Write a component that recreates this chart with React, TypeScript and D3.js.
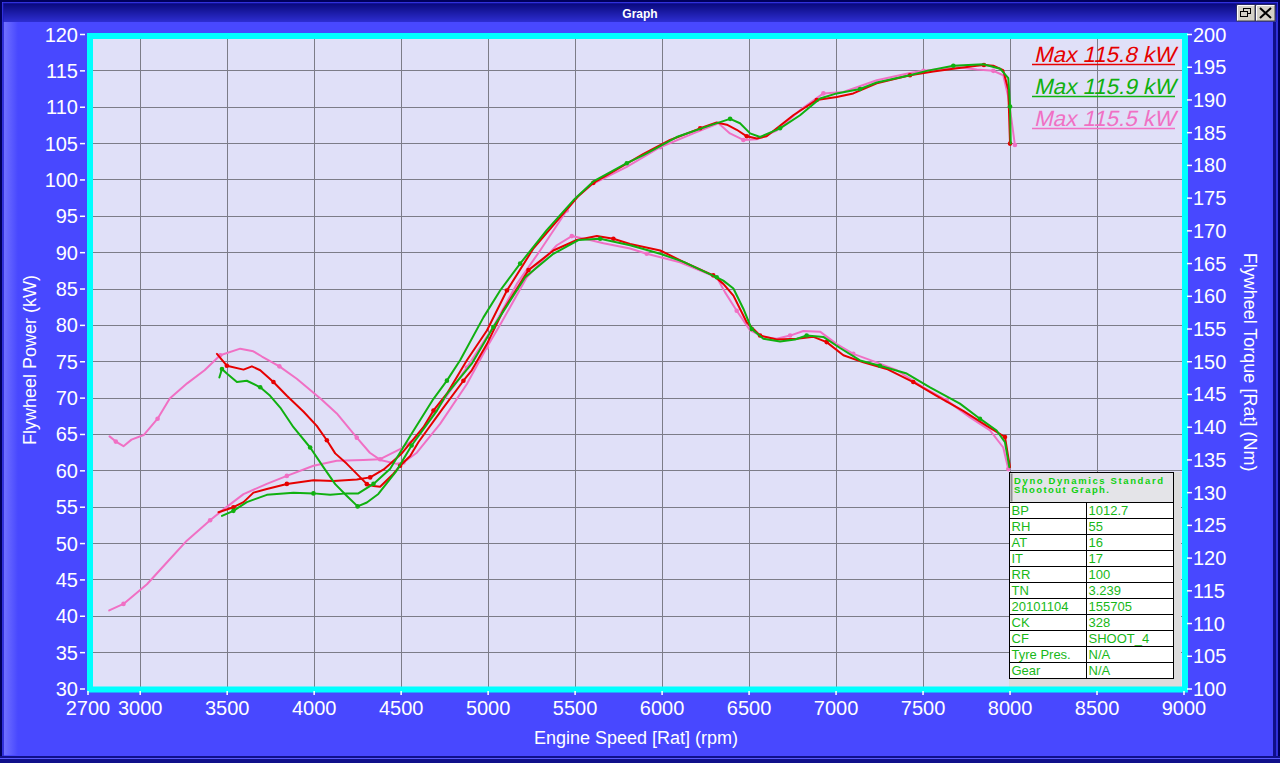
import React from 'react';
import * as d3 from 'd3';

// ─── data ───────────────────────────────────────────────────────────────────

type Pt = [number, number]; // [rpm, value]

const rpmTicks = [2700, 3000, 3500, 4000, 4500, 5000, 5500, 6000, 6500, 7000, 7500, 8000, 8500, 9000];
const powerTicks = [30, 35, 40, 45, 50, 55, 60, 65, 70, 75, 80, 85, 90, 95, 100, 105, 110, 115, 120];
const torqueTicks = [100, 105, 110, 115, 120, 125, 130, 135, 140, 145, 150, 155, 160, 165, 170, 175, 180, 185, 190, 195, 200];

const redPower: Pt[] = [
  [3450, 54.3], [3536, 55.0], [3594, 55.7], [3651, 57.0], [3728, 57.5], [3843, 58.2], [3996, 58.7],
  [4111, 58.6], [4245, 58.8], [4322, 59.1], [4400, 60.2], [4500, 62.3], [4628, 66.0], [4686, 68.3],
  [4763, 70.6], [4878, 75.2], [4993, 79.3], [5108, 84.8], [5261, 90.6], [5433, 95.4], [5520, 97.8],
  [5605, 99.6], [5701, 100.9], [5893, 103.6], [6046, 105.5], [6219, 107.1], [6314, 107.9], [6372, 107.6],
  [6429, 106.9], [6487, 106.0], [6544, 105.7], [6601, 106.0], [6754, 108.9], [6889, 111.0], [7004, 111.4],
  [7099, 111.9], [7234, 113.3], [7425, 114.4], [7559, 114.9], [7674, 115.3], [7809, 115.7], [7850, 115.8],
  [7904, 115.7], [7961, 115.1], [7990, 112.4], [8000, 105.0],
];

const redTorque: Pt[] = [
  [3441, 151.2], [3498, 149.4], [3594, 148.8], [3642, 149.3], [3690, 148.7], [3766, 146.9], [3843, 144.8],
  [3938, 142.4], [4015, 140.2], [4073, 138.0], [4121, 136.0], [4188, 134.4], [4255, 132.6], [4303, 131.3],
  [4341, 131.0], [4379, 130.9], [4456, 132.9], [4494, 134.1], [4552, 135.6], [4599, 137.7], [4743, 143.0],
  [4858, 147.1], [4906, 148.7], [4993, 152.7], [5088, 157.9], [5232, 164.0], [5375, 167.0], [5510, 168.6],
  [5625, 169.2], [5720, 168.8], [5816, 168.0], [5989, 167.0], [6120, 165.3], [6294, 163.2], [6352, 161.9],
  [6410, 160.1], [6487, 156.0], [6563, 154.0], [6659, 153.4], [6774, 153.5], [6870, 153.8], [6946, 153.0],
  [7042, 151.0], [7157, 149.9], [7291, 148.9], [7444, 146.9], [7578, 144.8], [7731, 142.5], [7866, 140.2],
  [7971, 138.5], [7990, 135.4], [8000, 133.9],
];

const greenPower: Pt[] = [
  [3470, 53.8], [3536, 54.5], [3613, 55.7], [3728, 56.7], [3881, 57.0], [3996, 56.9], [4092, 56.7],
  [4188, 56.9], [4254, 56.9], [4341, 58.2], [4437, 60.3], [4552, 64.8], [4686, 69.9], [4763, 72.4],
  [4839, 75.2], [4973, 81.1], [5069, 84.8], [5184, 88.5], [5337, 93.1], [5490, 97.2], [5605, 99.8],
  [5797, 102.3], [5893, 103.4], [6084, 105.9], [6276, 107.5], [6391, 108.4], [6448, 107.8], [6506, 106.4],
  [6563, 105.9], [6678, 107.1], [6793, 108.9], [6908, 111.2], [7004, 111.9], [7138, 112.5], [7234, 113.4],
  [7425, 114.4], [7521, 115.0], [7674, 115.7], [7847, 115.9], [7943, 115.3], [7990, 114.0], [8000, 110.1],
  [8004, 105.0],
];

const greenTorque: Pt[] = [
  [3455, 147.6], [3470, 148.9], [3498, 148.2], [3556, 146.9], [3613, 147.1], [3690, 146.1], [3747, 144.8],
  [3805, 143.0], [3881, 140.0], [3977, 136.9], [4053, 133.9], [4121, 131.3], [4188, 129.5], [4250, 127.9],
  [4303, 128.5], [4369, 129.8], [4470, 133.2], [4560, 137.2], [4705, 142.5], [4763, 145.1], [4906, 149.7],
  [5030, 155.3], [5213, 162.9], [5375, 166.5], [5519, 168.6], [5644, 168.8], [5816, 167.8], [5989, 166.5],
  [6120, 165.3], [6314, 162.9], [6352, 162.4], [6410, 161.2], [6467, 158.1], [6515, 155.0], [6582, 153.5],
  [6678, 153.1], [6764, 153.4], [6831, 154.0], [6927, 153.8], [7023, 152.1], [7138, 150.2], [7252, 149.4],
  [7406, 148.2], [7540, 146.1], [7712, 143.6], [7827, 141.3], [7923, 139.5], [7971, 137.7], [7996, 133.9],
];

const pinkPower: Pt[] = [
  [2822, 40.8], [2904, 41.7], [3039, 44.4], [3153, 47.4], [3268, 50.4], [3402, 53.2], [3479, 54.7],
  [3594, 56.8], [3728, 58.2], [3843, 59.3], [3996, 60.7], [4130, 61.4], [4283, 61.5], [4379, 61.6],
  [4494, 63.0], [4590, 64.6], [4686, 67.8], [4878, 74.2], [5030, 79.8], [5165, 85.7], [5299, 90.3],
  [5452, 95.8], [5510, 97.7], [5605, 99.5], [5797, 101.8], [5989, 104.5], [6180, 106.4], [6324, 107.8],
  [6390, 106.4], [6467, 105.5], [6544, 105.6], [6659, 106.8], [6793, 109.6], [6927, 111.9], [7042, 112.1],
  [7234, 113.7], [7425, 114.7], [7502, 115.0], [7617, 115.3], [7700, 115.5], [7809, 115.2], [7904, 115.0],
  [7961, 114.4], [7990, 111.4], [8009, 108.2], [8028, 104.8],
];

const pinkTorque: Pt[] = [
  [2824, 138.6], [2860, 137.8], [2904, 137.1], [2950, 138.1], [3020, 138.8], [3100, 141.3], [3170, 144.4],
  [3270, 146.7], [3370, 148.7], [3460, 151.0], [3575, 152.0], [3650, 151.6], [3700, 150.8], [3800, 149.3],
  [3900, 147.4], [4044, 144.2], [4130, 142.1], [4245, 138.4], [4320, 136.1], [4380, 135.0], [4475, 134.4],
  [4513, 134.6], [4590, 136.1], [4724, 140.5], [4878, 146.6], [4993, 152.2], [5079, 156.1], [5222, 162.9],
  [5395, 167.8], [5481, 169.2], [5586, 168.6], [5663, 168.1], [5816, 167.3], [5912, 166.5], [6103, 165.2],
  [6314, 162.9], [6362, 160.6], [6429, 157.8], [6506, 154.8], [6582, 153.8], [6659, 153.5], [6736, 154.0],
  [6812, 154.7], [6908, 154.6], [7004, 152.7], [7099, 151.2], [7233, 149.9], [7349, 148.7], [7502, 146.1],
  [7636, 144.1], [7770, 141.5], [7885, 139.5], [7961, 136.9], [7990, 133.6],
];

const legendLabels = ['Max 115.8 kW', 'Max 115.9 kW', 'Max 115.5 kW'];

const infoKeys = ['BP', 'RH', 'AT', 'IT', 'RR', 'TN', '20101104', 'CK', 'CF', 'Tyre Pres.', 'Gear'];
const infoValues = ['1012.7', '55', '16', '17', '100', '3.239', '155705', '328', 'SHOOT_4', 'N/A', 'N/A'];

// ─── look ───────────────────────────────────────────────────────────────────

const BG = '#4848ff';
const PLOT_BG = '#e0e0f8';
const GRID = '#7c7c88';
const CYAN = '#00ffff';
const RED = '#e60000';
const GREEN = '#10b010';
const PINK = '#f070c4';
const TXT_GREEN = '#18b818';
const FONT = "'Liberation Sans', Arial, sans-serif";
const NARROW = "'Liberation Sans Narrow', 'Liberation Sans', Arial, sans-serif";

const runs = [
  { key: 'pink', color: PINK, power: pinkPower, torque: pinkTorque },
  { key: 'red', color: RED, power: redPower, torque: redTorque },
  { key: 'green', color: GREEN, power: greenPower, torque: greenTorque },
];
const legendColors = [RED, GREEN, PINK];

export default function App() {
  const x = d3.scaleLinear().domain([2700, 9000]).range([88, 1184]);
  const yP = d3.scaleLinear().domain([30, 120]).range([689, 34.5]);
  const yT = d3.scaleLinear().domain([100, 200]).range([689, 34.5]);
  const lineP = d3.line<Pt>().x(d => x(d[0])).y(d => yP(d[1]));
  const lineT = d3.line<Pt>().x(d => x(d[0])).y(d => yT(d[1]));

  const [x0, x1] = x.range();
  const [y1, y0] = yP.range();

  // table geometry
  const tX = 1009.5, tW = 164, tY = 472.5, headH = 30, rowH = 16, colX = 1086.5;

  return (
    <div style={{ position: 'fixed', left: 0, top: 0, width: 1280, height: 763 }}>
      <svg width={1280} height={763} style={{ display: 'block' }} fontFamily={FONT}>
        <defs>
          <linearGradient id="titleGrad" x1="0" y1="0" x2="0" y2="1">
            <stop offset="0" stopColor="#08087a" />
            <stop offset="1" stopColor="#2e2ed2" />
          </linearGradient>
          <linearGradient id="leftEdge" x1="0" y1="0" x2="1" y2="0">
            <stop offset="0" stopColor="#7070ff" />
            <stop offset="1" stopColor={BG} />
          </linearGradient>
          <clipPath id="plotClip">
            <rect x={x0} y={y0} width={x1 - x0} height={y1 - y0} />
          </clipPath>
        </defs>

        {/* window chrome */}
        <rect x={0} y={0} width={1280} height={763} fill={BG} />
        <rect x={4} y={22} width={14} height={733} fill="url(#leftEdge)" />
        <rect x={3} y={3} width={1274} height={19} fill="url(#titleGrad)" />
        <rect x={1} y={1} width={1278} height={761} fill="none" stroke="#00005a" strokeWidth={2} />
        <rect x={3} y={3} width={1274} height={757} fill="none" stroke="#1a1ab8" strokeWidth={1} />
        <rect x={0} y={756} width={1280} height={7} fill="#10108a" />
        <line x1={0} x2={1280} y1={758.5} y2={758.5} stroke="#5a5aff" strokeWidth={1} />
        <rect x={1273} y={22} width={3} height={735} fill="#10108a" />
        <text x={640} y={18} textAnchor="middle" fill="#fff" fontSize={12} fontWeight="bold">Graph</text>

        {/* title bar buttons */}
        <g>
          <rect x={1237} y={5} width={18} height={16} fill="#d4d0c8" stroke="#404040" />
          <path d="M1237.5,20.5 V5.5 H1254.5" fill="none" stroke="#fff" />
          <rect x={1243.5} y={8.5} width={7} height={5} fill="none" stroke="#000" />
          <rect x={1240.5} y={11.5} width={7} height={5} fill="#d4d0c8" stroke="#000" />
          <rect x={1256} y={5} width={19} height={16} fill="#d4d0c8" stroke="#404040" />
          <path d="M1256.5,20.5 V5.5 H1274.5" fill="none" stroke="#fff" />
          <path d="M1260,8 L1271,18 M1271,8 L1260,18" stroke="#000" strokeWidth={2} />
        </g>

        {/* plot area */}
        <rect x={x0} y={y0} width={x1 - x0} height={y1 - y0} fill={PLOT_BG} />
        {rpmTicks.slice(1, -1).map(t => (
          <line key={`gx${t}`} x1={x(t)} x2={x(t)} y1={y0} y2={y1} stroke={GRID} strokeWidth={1} shapeRendering="crispEdges" />
        ))}
        {powerTicks.slice(1, -1).map(t => (
          <line key={`gy${t}`} x1={x0} x2={x1} y1={yP(t)} y2={yP(t)} stroke={GRID} strokeWidth={1} shapeRendering="crispEdges" />
        ))}

        {/* curves */}
        <g clipPath="url(#plotClip)" fill="none" strokeWidth={2} strokeLinejoin="round" strokeLinecap="round">
          {runs.map(r => (
            <g key={r.key}>
              <path d={lineP(r.power) ?? undefined} stroke={r.color} />
              <path d={lineT(r.torque) ?? undefined} stroke={r.color} />
              {r.power.filter((_, i) => i % 4 === 1).map((d, i) => (
                <circle key={`p${i}`} cx={x(d[0])} cy={yP(d[1])} r={2.3} fill={r.color} stroke="none" />
              ))}
              {r.torque.filter((_, i) => i % 4 === 1).map((d, i) => (
                <circle key={`t${i}`} cx={x(d[0])} cy={yT(d[1])} r={2.3} fill={r.color} stroke="none" />
              ))}
            </g>
          ))}
        </g>

        {/* legend (oblique via skew so it never depends on an italic face) */}
        {legendLabels.map((lab, i) => (
          <g key={lab}>
            <g transform={`translate(1175,${62 + i * 32}) skewX(-13)`}>
              <text x={0} y={0} textAnchor="end" fill={legendColors[i]} fontSize={22}
                textLength={141} lengthAdjust="spacingAndGlyphs">{lab}</text>
            </g>
            <line x1={1032} x2={1175} y1={64.5 + i * 32} y2={64.5 + i * 32} stroke={legendColors[i]} strokeWidth={1.5} />
          </g>
        ))}

        {/* info table */}
        <rect x={1009} y={472} width={172} height={215} fill="#dcdcdc" />
        <rect x={tX} y={tY} width={tW} height={headH} fill="#e4e4e8" stroke="#000" />
        <rect x={tX + 1} y={tY + 1} width={2} height={headH - 2} fill="#909090" />
        <text x={1014} y={483.5} fill="#10d010" fontSize={9.5} fontWeight="bold" textLength={149} lengthAdjust="spacing">Dyno Dynamics Standard</text>
        <text x={1014} y={492.5} fill="#10d010" fontSize={9.5} fontWeight="bold" textLength={95} lengthAdjust="spacing">Shootout Graph.</text>
        {infoKeys.map((k, i) => {
          const ry = tY + headH + i * rowH;
          return (
            <g key={k}>
              <rect x={tX} y={ry} width={tW} height={rowH} fill="#fff" stroke="#000" />
              <line x1={colX} x2={colX} y1={ry} y2={ry + rowH} stroke="#000" />
              <text x={tX + 2} y={ry + 12.5} fill={TXT_GREEN} fontSize={13} fontFamily={NARROW} fontStretch="condensed">{k}</text>
              <text x={colX + 2} y={ry + 12.5} fill={TXT_GREEN} fontSize={13} fontFamily={NARROW} fontStretch="condensed">{infoValues[i]}</text>
            </g>
          );
        })}

        {/* cyan frame */}
        <rect x={x0 + 2} y={y0 + 1.5} width={x1 - x0 - 1} height={y1 - y0 - 1} fill="none" stroke={CYAN} strokeWidth={6} />

        {/* axes */}
        {powerTicks.map(t => (
          <g key={`lp${t}`}>
            <line x1={80} x2={85} y1={yP(t)} y2={yP(t)} stroke="#fff" strokeWidth={1.5} />
            <text x={78} y={yP(t) + 7} textAnchor="end" fill="#fff" fontSize={20}>{t}</text>
          </g>
        ))}
        {torqueTicks.map(t => (
          <g key={`rt${t}`}>
            <line x1={1187} x2={1192} y1={yT(t)} y2={yT(t)} stroke="#fff" strokeWidth={1.5} />
            <text x={1193} y={yT(t) + 7} fill="#fff" fontSize={20}>{t}</text>
          </g>
        ))}
        {rpmTicks.map(t => (
          <g key={`bx${t}`}>
            <line x1={x(t)} x2={x(t)} y1={691} y2={695} stroke="#fff" strokeWidth={1.5} />
            <text x={x(t)} y={715} textAnchor="middle" fill="#fff" fontSize={20}>{t}</text>
          </g>
        ))}

        <text transform="translate(36,360) rotate(-90)" textAnchor="middle" fill="#fff" fontSize={18}>Flywheel Power (kW)</text>
        <text transform="translate(1244,362) rotate(90)" textAnchor="middle" fill="#fff" fontSize={18}>Flywheel Torque [Rat] (Nm)</text>
        <text x={636} y={744} textAnchor="middle" fill="#fff" fontSize={18}>Engine Speed [Rat] (rpm)</text>
      </svg>
    </div>
  );
}
